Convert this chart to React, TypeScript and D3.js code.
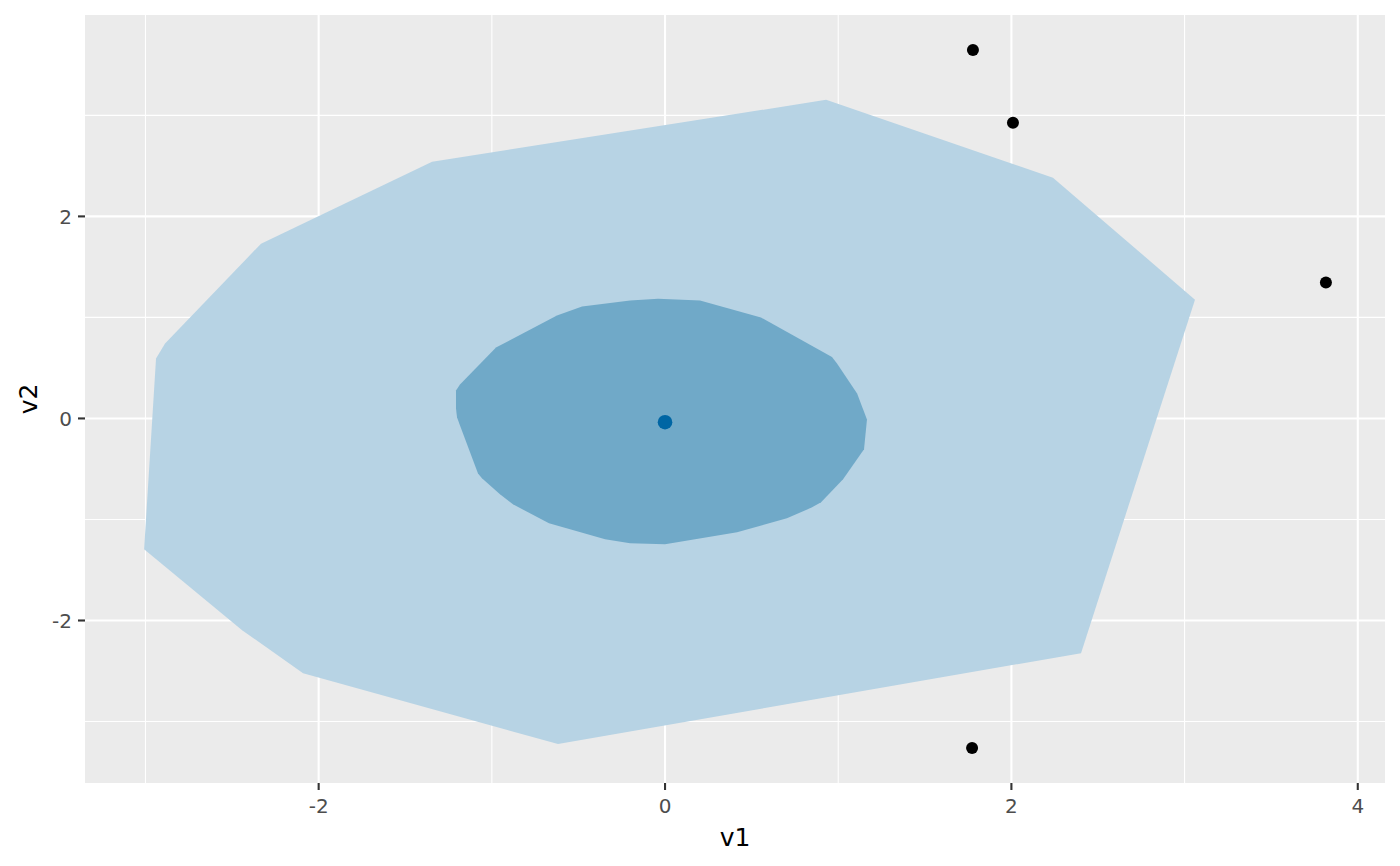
import React from "react";
import * as d3 from "d3";

// Outer loop (hull) vertices [v1, v2]
const loopX = [-3.008, -2.939, -2.887, -2.333, -1.345, 0.93, 2.24, 3.06, 2.402, -0.618, -2.09, -2.442];
const loopY = [-1.295, 0.593, 0.741, 1.73, 2.541, 3.154, 2.383, 1.176, -2.323, -3.223, -2.521, -2.096];

// Inner bag vertices
const bagX = [-0.04, 0.202, 0.554, 0.964, 0.993, 1.109, 1.166, 1.149, 1.028, 0.901, 0.849, 0.704, 0.416, 0.0, -0.202, -0.346, -0.67, -0.878, -0.953, -1.057, -1.08, -1.201, -1.207, -1.207, -1.184, -0.976, -0.624, -0.479, -0.202];
const bagY = [1.186, 1.167, 0.999, 0.608, 0.544, 0.247, -0.01, -0.306, -0.603, -0.83, -0.88, -0.989, -1.127, -1.246, -1.236, -1.196, -1.038, -0.85, -0.751, -0.593, -0.544, 0.01, 0.099, 0.277, 0.336, 0.702, 1.018, 1.107, 1.167];

// Outliers
const outX = [1.778, 2.009, 3.816, 1.773];
const outY = [3.648, 2.926, 1.345, -3.263];

// Median
const medianX = [0.0];
const medianY = [-0.037];

const xTicks = [-2, 0, 2, 4];
const xMinor = [-3, -1, 1, 3];
const yTicks = [-2, 0, 2];
const yMinor = [-3, -1, 1, 3];

const W = 1400;
const H = 866;
const L = 85, R = 1385, T = 15, B = 783;

export default function App() {
  const allX = [...loopX, ...outX];
  const allY = [...loopY, ...outY];
  const [x0, x1] = d3.extent(allX) as [number, number];
  const [y0, y1] = d3.extent(allY) as [number, number];
  const px = (x1 - x0) * 0.05;
  const py = (y1 - y0) * 0.05;
  const x = d3.scaleLinear().domain([x0 - px, x1 + px]).range([L, R]);
  const y = d3.scaleLinear().domain([y0 - py, y1 + py]).range([B, T]);

  const line = d3
    .line<[number, number]>()
    .x((d) => x(d[0]))
    .y((d) => y(d[1]))
    .curve(d3.curveLinearClosed);

  const loopPts = loopX.map((v, i) => [v, loopY[i]] as [number, number]);
  const bagPts = bagX.map((v, i) => [v, bagY[i]] as [number, number]);

  const font = "DejaVu Sans, sans-serif";

  return (
    <svg width={W} height={H} style={{ position: "absolute", left: 0, top: 0, background: "#fff" }}>
      <rect x={0} y={0} width={W} height={H} fill="#fff" />
      <rect x={L} y={T} width={R - L} height={B - T} fill="#EBEBEB" />
      {xMinor.map((t) => (
        <line key={"xm" + t} x1={x(t)} x2={x(t)} y1={T} y2={B} stroke="#fff" strokeWidth={1.1} />
      ))}
      {yMinor.map((t) => (
        <line key={"ym" + t} x1={L} x2={R} y1={y(t)} y2={y(t)} stroke="#fff" strokeWidth={1.1} />
      ))}
      {xTicks.map((t) => (
        <line key={"xM" + t} x1={x(t)} x2={x(t)} y1={T} y2={B} stroke="#fff" strokeWidth={2.1} />
      ))}
      {yTicks.map((t) => (
        <line key={"yM" + t} x1={L} x2={R} y1={y(t)} y2={y(t)} stroke="#fff" strokeWidth={2.1} />
      ))}

      <path d={line(loopPts) || ""} fill="#B7D3E4" />
      <path d={line(bagPts) || ""} fill="#70A9C8" />

      {outX.map((v, i) => (
        <circle key={"o" + i} cx={x(v)} cy={y(outY[i])} r={6} fill="#000" />
      ))}
      {medianX.map((v, i) => (
        <circle key={"m" + i} cx={x(v)} cy={y(medianY[i])} r={7.3} fill="#0066A4" />
      ))}

      {/* x axis */}
      {xTicks.map((t) => (
        <g key={"xt" + t}>
          <line x1={x(t)} x2={x(t)} y1={B} y2={B + 7} stroke="#333" strokeWidth={2.1} />
          <text x={x(t)} y={B + 30} textAnchor="middle" fontFamily={font} fontSize={20} fill="#4D4D4D">
            {String(t)}
          </text>
        </g>
      ))}
      {/* y axis */}
      {yTicks.map((t) => (
        <g key={"yt" + t}>
          <line x1={L - 7} x2={L} y1={y(t)} y2={y(t)} stroke="#333" strokeWidth={2.1} />
          <text x={L - 13} y={y(t)} dy="0.36em" textAnchor="end" fontFamily={font} fontSize={20} fill="#4D4D4D">
            {String(t)}
          </text>
        </g>
      ))}
      <text x={(L + R) / 2} y={846} textAnchor="middle" fontFamily={font} fontSize={25} fill="#000">
        v1
      </text>
      <text
        transform={`translate(37, ${(T + B) / 2}) rotate(-90)`}
        textAnchor="middle"
        fontFamily={font}
        fontSize={25}
        fill="#000"
      >
        v2
      </text>
    </svg>
  );
}
